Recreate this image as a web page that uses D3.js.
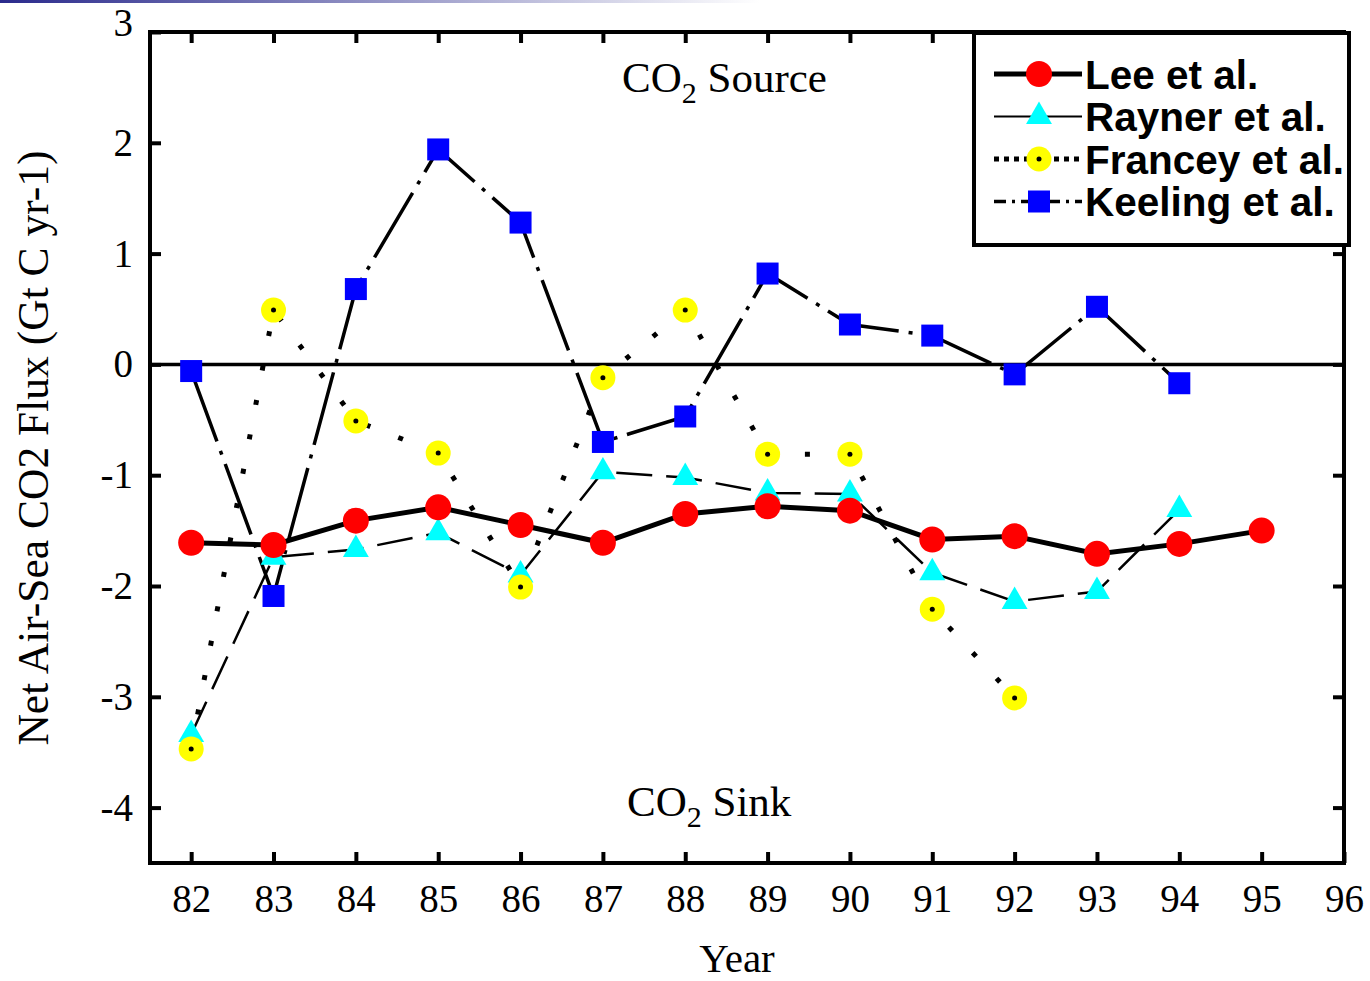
<!DOCTYPE html>
<html>
<head>
<meta charset="utf-8">
<script src="https://cdn.jsdelivr.net/npm/d3@7"></script>
<style>
  body { margin: 0; background: #fff; }
  svg { display: block; }
</style>
</head>
<body>
<svg id="chart" width="1370" height="981"></svg>
<script>
// Data
const years = [82, 83, 84, 85, 86, 87, 88, 89, 90, 91, 92, 93, 94, 95];
const lee = [-1.61, -1.63, -1.41, -1.29, -1.45, -1.61, -1.35, -1.28, -1.32, -1.58, -1.55, -1.71, -1.62, -1.50];
const rayner = [-3.34, -1.74, -1.67, -1.52, -1.90, -0.97, -1.02, -1.16, -1.17, -1.88, -2.14, -2.05, -1.31];
const francey = [-3.47, 0.49, -0.51, -0.80, -2.01, -0.12, 0.49, -0.81, -0.81, -2.21, -3.01];
const keeling = [-0.06, -2.09, 0.68, 1.94, 1.28, -0.70, -0.47, 0.82, 0.36, 0.26, -0.09, 0.52, -0.17];
const xTicks = [82, 83, 84, 85, 86, 87, 88, 89, 90, 91, 92, 93, 94, 95, 96];
const yTicks = [-4, -3, -2, -1, 0, 1, 2, 3];

const svg = d3.select('#chart');
const serif = '"Liberation Serif", "Times New Roman", serif';
const sans = '"Liberation Sans", Arial, sans-serif';

const x = d3.scaleLinear().domain([81.5, 96]).range([150, 1344]);
const y = d3.scaleLinear().domain([-4.5, 3]).range([863, 32]);

// faint blue strip at the very top
const grad = svg.append('defs').append('linearGradient').attr('id', 'topgrad');
grad.append('stop').attr('offset', '0%').attr('stop-color', '#2a2a8c');
grad.append('stop').attr('offset', '100%').attr('stop-color', '#ffffff');
svg.append('rect').attr('x', 0).attr('y', 0).attr('width', 760).attr('height', 3).attr('fill', 'url(#topgrad)');

// axes (ticks point inward)
function styleAxis(g) {
  g.select('.domain').remove();
  g.selectAll('line').attr('stroke', '#000').attr('stroke-width', 4);
  g.selectAll('text').attr('fill', '#000').style('font-family', serif).style('font-size', '39px');
}

svg.append('g')
  .attr('transform', `translate(0,${y(-4.5)})`)
  .call(d3.axisBottom(x).tickValues(xTicks).tickSize(-11).tickPadding(21).tickFormat(d => String(d)))
  .call(styleAxis);

svg.append('g')
  .attr('transform', `translate(0,${y(3)})`)
  .call(d3.axisTop(x).tickValues(xTicks.slice(0, -1)).tickSize(-11).tickFormat(''))
  .call(styleAxis);

const yAxis = svg.append('g')
  .attr('transform', `translate(${x(81.5)},0)`)
  .call(d3.axisLeft(y).tickValues(yTicks).tickSize(-11).tickPadding(17).tickFormat(d => String(d)))
  .call(styleAxis);
// top label sits a little above its tick in the original
yAxis.selectAll('.tick').filter(d => d === 3).select('text').attr('dy', '0.1em');

svg.append('g')
  .attr('transform', `translate(${x(96)},0)`)
  .call(d3.axisRight(y).tickValues(yTicks.slice(0, -1)).tickSize(-11).tickFormat(''))
  .call(styleAxis);

// frame
svg.append('rect')
  .attr('x', x(81.5)).attr('y', y(3))
  .attr('width', x(96) - x(81.5)).attr('height', y(-4.5) - y(3))
  .attr('fill', 'none').attr('stroke', '#000').attr('stroke-width', 4);

// zero line
svg.append('line')
  .attr('x1', x(81.5)).attr('x2', x(96))
  .attr('y1', y(0)).attr('y2', y(0))
  .attr('stroke', '#000').attr('stroke-width', 3.5);

const series = [
  { name: 'Rayner et al.', values: rayner, width: 2.5, dash: '36,14', marker: 'triangle', fill: '#00ffff', legendWidth: 2, legendDash: null },
  { name: 'Francey et al.', values: francey, width: 5, dash: '5,30', marker: 'dotcircle', fill: '#ffff00', legendWidth: 5, legendDash: '5,5' },
  { name: 'Keeling et al.', values: keeling, width: 3.5, dash: '75,10,4,10', marker: 'square', fill: '#0000ff', legendWidth: 3.5, legendDash: '12,6,3,6' },
  { name: 'Lee et al.', values: lee, width: 5, dash: null, marker: 'circle', fill: '#ff0000', legendWidth: 5, legendDash: null }
];

const line = d3.line().x((d, i) => x(years[i])).y(d => y(d));

series.forEach(s => {
  svg.append('path')
    .datum(s.values)
    .attr('fill', 'none')
    .attr('stroke', '#000')
    .attr('stroke-width', s.width)
    .attr('stroke-dasharray', s.dash)
    .attr('d', line);
});

function drawMarker(g, type, fill, cx, cy) {
  if (type === 'circle') {
    g.append('circle').attr('cx', cx).attr('cy', cy).attr('r', 13).attr('fill', fill);
  } else if (type === 'dotcircle') {
    g.append('circle').attr('cx', cx).attr('cy', cy).attr('r', 12.5).attr('fill', fill);
    g.append('circle').attr('cx', cx).attr('cy', cy).attr('r', 2.5).attr('fill', '#000');
  } else if (type === 'square') {
    g.append('rect').attr('x', cx - 11).attr('y', cy - 11).attr('width', 22).attr('height', 22).attr('fill', fill);
  } else if (type === 'triangle') {
    g.append('path')
      .attr('d', d3.symbol(d3.symbolTriangle, 290)())
      .attr('transform', `translate(${cx},${cy})`)
      .attr('fill', fill);
  }
}

series.forEach(s => {
  const g = svg.append('g');
  s.values.forEach((v, i) => drawMarker(g, s.marker, s.fill, x(years[i]), y(v)));
});

// annotations
function co2Label(text, tx, ty) {
  const t = svg.append('text')
    .attr('x', tx).attr('y', ty)
    .style('font-family', serif).style('font-size', '43px').attr('fill', '#000');
  t.append('tspan').text('CO');
  t.append('tspan').attr('dy', 11).style('font-size', '30px').text('2');
  t.append('tspan').attr('dy', -11).text(' ' + text);
}
co2Label('Source', 622, 92);
co2Label('Sink', 627, 816);

// axis titles
svg.append('text')
  .attr('x', 737).attr('y', 972)
  .attr('text-anchor', 'middle')
  .style('font-family', serif).style('font-size', '41px')
  .text('Year');

svg.append('text')
  .attr('transform', 'translate(48,448) rotate(-90)')
  .attr('text-anchor', 'middle')
  .style('font-family', serif).style('font-size', '43.5px')
  .text('Net Air-Sea CO2 Flux (Gt C yr-1)');

// legend
const legend = svg.append('g');
legend.append('rect')
  .attr('x', 974).attr('y', 33).attr('width', 375).attr('height', 212)
  .attr('fill', '#fff').attr('stroke', '#000').attr('stroke-width', 4);

const legendOrder = [series[3], series[0], series[1], series[2]];
legendOrder.forEach((s, i) => {
  const ly = 74 + i * 42.5;
  legend.append('line')
    .attr('x1', 994).attr('x2', 1082).attr('y1', ly).attr('y2', ly)
    .attr('stroke', '#000').attr('stroke-width', s.legendWidth)
    .attr('stroke-dasharray', s.legendDash);
  drawMarker(legend, s.marker, s.fill, 1039, ly);
  legend.append('text')
    .attr('x', 1085).attr('y', ly)
    .attr('dy', '0.36em')
    .style('font-family', sans).style('font-weight', 'bold').style('font-size', '40.5px')
    .text(s.name);
});
</script>
</body>
</html>
